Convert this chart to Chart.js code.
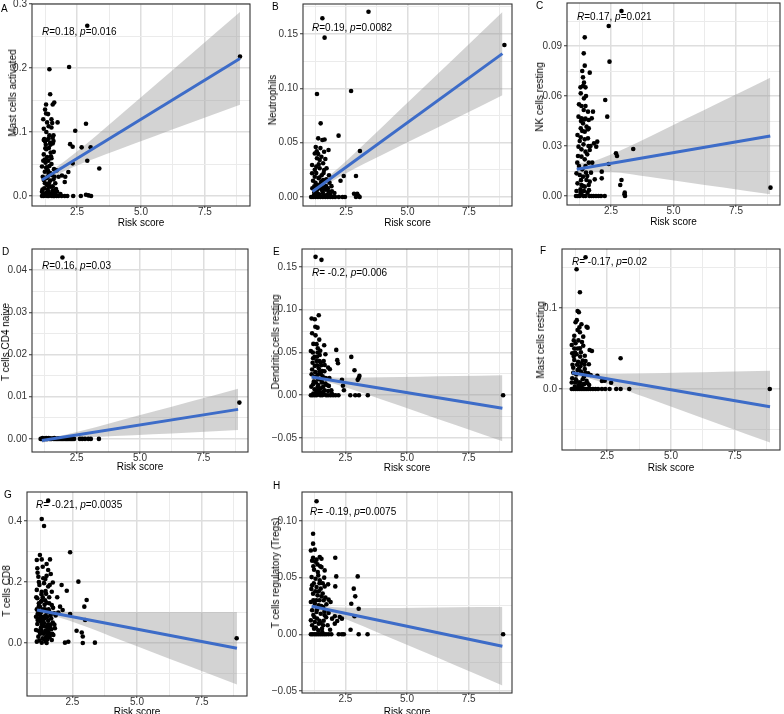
<!DOCTYPE html>
<html><head><meta charset="utf-8">
<script src="https://cdn.jsdelivr.net/npm/chart.js@4.4.1/dist/chart.umd.min.js"></script>
<style>
html,body{margin:0;padding:0;background:#fff;}
#wrap{position:relative;width:784px;height:714px;overflow:hidden;font-family:"Liberation Sans",Arial,Helvetica,sans-serif;color:#000;}
.cv{position:absolute;}
.lbl{position:absolute;font-size:10px;line-height:12px;white-space:nowrap;}
.ytitle{position:absolute;font-size:10px;line-height:12px;white-space:nowrap;transform:translate(-50%,-50%) rotate(-90deg);}
</style></head><body><div id="wrap"></div>
<script>
// ---------- data ----------
const riskMajor = [2.5, 5.0, 7.5];
const riskLabels = ['2.5', '5.0', '7.5'];
const riskMinor = [1.25, 3.75, 6.25, 8.75];
const riskRange = [0.74, 9.26];
const bandX = [1.13, 1.6, 2.5, 4, 5.5, 7, 8.87];
const fitX = [1.13, 8.87];

const ptsA = [[1.42,0.198],[2.19,0.2015],[2.90,0.266],[8.87,0.218],[1.45,0.159],[1.29,0.143],[1.55,0.143],[1.61,0.146],[1.29,0.129],[1.37,0.128],[1.33,0.115],[1.53,0.114],[1.74,0.115],[2.85,0.113],[1.39,0.109],[1.50,0.107],[2.43,0.102],[1.22,0.089],[1.39,0.090],[1.55,0.091],[1.25,0.085],[1.45,0.083],[1.58,0.086],[2.23,0.081],[2.33,0.077],[2.68,0.076],[3.03,0.076],[2.90,0.055],[2.33,0.051],[3.37,0.043],[2.16,0.0375],
[1.20,0.0875],[1.46,0.080],[1.55,0.082],[1.26,0.0745],[1.59,0.069],[1.33,0.061],[1.50,0.059],[1.13,0.046],[1.29,0.044],[1.42,0.047],[1.60,0.042],[1.24,0.038],[1.39,0.035],[1.52,0.033],[1.78,0.030],[1.91,0.032],[2.04,0.030],[2.02,0.022],[1.65,0.020],[1.20,0.025],[1.33,0.017],[1.46,0.0145],[1.55,0.009],[1.13,0.0067],[1.26,0.004],[1.39,0.0067],[1.72,0.0067],
[1.13,0],[1.20,0],[1.26,0.001],[1.33,0],[1.39,0],[1.46,0.001],[1.52,0],[1.60,0],[1.70,0],[1.78,0],[1.90,0],[2.02,0],[2.12,0],[2.35,0],[2.65,0],[2.85,0.002],[2.95,0.001],[3.05,0],
[1.18,0.12],[1.30,0.10],[1.42,0.095],[1.20,0.065],[1.38,0.055],[1.50,0.05],[1.27,0.052],[1.16,0.03],[1.30,0.028],[1.45,0.024],[1.58,0.026],[1.22,0.012],[1.35,0.01],[1.50,0.004],[1.64,0.005],[1.17,0.002],[1.42,0.002],[1.55,0.001],[1.68,0.011],[1.85,0.003],[1.30,0.073],[1.47,0.068],[1.36,0.04],[1.24,0.057],[1.40,0.02],
[1.15,0.01],[1.25,0.02],[1.35,0.03],[1.45,0.036],[1.55,0.015],[1.62,0.03],[1.70,0.04],[1.32,0.045],[1.18,0.055],[1.48,0.062],[1.28,0.08],[1.40,0.075],[1.58,0.095],[1.20,0.105],[1.35,0.088],[1.50,0.12],[1.25,0.135],[1.40,0.015],[1.60,0.0],[1.30,0.005]];
const loA = [0.0174,0.0305,0.0478,0.0709,0.0931,0.1151,0.1425];
const hiA = [0.0326,0.0425,0.0694,0.1201,0.1715,0.2231,0.2875];
const fitA = [0.025,0.215];

const ptsB = [[1.53,0.1646],[1.62,0.1467],[3.41,0.1706],[1.31,0.0948],[2.70,0.0976],[8.95,0.140],[1.46,0.0678],[2.19,0.0565],[3.06,0.0424],[1.36,0.054],[1.53,0.0525],[1.62,0.053],[1.26,0.046],[1.60,0.0417],[1.78,0.0433],
[1.22,0.040],[1.36,0.0396],[1.31,0.0356],[1.49,0.0371],[1.42,0.0341],[1.56,0.031],
[1.11,0.0295],[1.28,0.028],[1.42,0.0264],[1.60,0.0249],[1.70,0.0264],
[2.40,0.0193],[2.90,0.0193],[2.27,0.015],
[1.11,0.0218],[1.22,0.0187],[1.38,0.0172],[1.56,0.0157],[1.69,0.0163],[1.82,0.0132],
[1.20,0.0098],[1.36,0.0083],[1.49,0.0077],[1.65,0.0068],[1.78,0.0052],[1.92,0.0052],[2.02,0.0037],
[1.07,0],[1.15,0],[1.25,0],[1.35,0],[1.45,0],[1.55,0],[1.65,0],[1.75,0],[1.85,0],[1.95,0],[2.05,0],[2.20,0],[2.35,0],[2.45,0],[2.90,0],[3.00,0.001],[3.05,0],[2.82,0.003],[2.95,0.003],
[1.45,0.012],[1.30,0.006],[1.55,0.004],[1.72,0.002],[1.40,0.018],[1.25,0.013],[1.60,0.009],[1.50,0.020],[1.35,0.003],[1.62,0.001],[1.85,0.002],[1.20,0.004],[1.18,0.001],[1.42,0.002],
[1.15,0.015],[1.28,0.022],[1.38,0.03],[1.48,0.014],[1.58,0.022],[1.68,0.01],[1.75,0.008],[1.32,0.011],[1.12,0.008],[1.42,0.008],[1.52,0.006],[1.22,0.025],[1.45,0.045],[1.65,0.035],[1.30,0.042],[1.80,0.02],[1.90,0.01],[1.25,0.001],[1.40,0.001],[1.58,0.001]];
const loB = [0.0011,0.0097,0.0219,0.0391,0.0559,0.0727,0.0937];
const hiB = [0.0089,0.0157,0.0331,0.0651,0.0975,0.1299,0.1703];
const fitB = [0.005,0.132];

const ptsC = [[2.92,0.111],[2.41,0.102],[1.45,0.0952],[1.41,0.0856],[2.44,0.0806],[1.45,0.0782],[1.65,0.074],[1.38,0.0712],[1.28,0.0652],[1.38,0.066],[1.48,0.0652],[2.27,0.0576],
[1.29,0.0616],[1.42,0.0586],[1.32,0.054],[1.48,0.054],[1.41,0.0516],[1.58,0.0506],[1.78,0.0506],[2.35,0.0476],
[1.20,0.0476],[1.32,0.0466],[1.48,0.0464],[1.61,0.0456],[1.73,0.0466],
[1.38,0.0436],[1.52,0.0416],[1.61,0.0406],[1.29,0.0406],[1.45,0.0386],
[1.16,0.0366],[1.29,0.0352],[1.45,0.034],[1.58,0.0346],[1.82,0.0316],[1.95,0.0326],[1.91,0.0296],
[3.39,0.0282],[2.70,0.0256],[2.74,0.024],
[1.20,0.0296],[1.32,0.028],[1.48,0.0266],[1.65,0.0276],[1.32,0.0236],[1.45,0.022],[1.61,0.020],
[2.41,0.0192],[2.13,0.0146],[2.13,0.0106],[2.92,0.0096],[2.87,0.0066],
[1.12,0.0136],[1.25,0.0126],[1.38,0.0116],[1.52,0.0096],[1.65,0.0086],[1.16,0.0076],[1.32,0.0066],[1.45,0.0056],[1.61,0.0066],
[3.05,0.002],[3.04,0.001],[3.06,0],
[1.10,0],[1.17,0],[1.25,0],[1.32,0.001],[1.40,0],[1.48,0],[1.56,0.002],[1.64,0],[1.72,0],[1.80,0],[1.90,0],[2.00,0],[2.10,0],[2.25,0],
[8.88,0.005],
[1.22,0.018],[1.35,0.016],[1.50,0.014],[1.28,0.004],[1.42,0.003],[1.55,0.012],[1.18,0.024],[1.40,0.031],[1.30,0.0095],[1.60,0.030],
[1.15,0.02],[1.25,0.033],[1.35,0.039],[1.45,0.046],[1.55,0.025],[1.70,0.014],[1.22,0.055],[1.35,0.075],[1.50,0.06],[1.28,0.002],[1.38,0.006],[1.48,0.018],[1.58,0.04],[1.68,0.03],[1.12,0.003],[1.62,0.0035],[1.75,0.02],[1.85,0.01],[1.42,0.068],[1.30,0.045]];
const loC = [0.0122,0.0142,0.0143,0.0115,0.0083,0.0051,0.001];
const hiC = [0.0198,0.0202,0.0249,0.0353,0.0463,0.0573,0.071];
const fitC = [0.016,0.036];

const ptsD = [[1.94,0.043],[8.92,0.0086],
[1.08,0],[1.12,0],[1.16,0.0002],[1.20,0],[1.24,0],[1.28,0.0001],[1.32,0],[1.36,0],[1.40,0.0002],[1.44,0],[1.48,0],[1.52,0],[1.56,0.0001],[1.60,0],[1.65,0],[1.70,0],[1.75,0],[1.80,0],[1.85,0],[1.90,0],[1.95,0],[2.00,0],[2.05,0],[2.10,0],[2.15,0],[2.20,0],[2.25,0],[2.30,0],[2.35,0],[2.40,0],[2.63,0],[2.72,0],[2.83,0],[2.96,0],[3.06,0],[3.38,0],
[1.18,0.0001],[1.30,0.0002],[1.45,0.0001],[1.62,0.0002],[1.78,0.0001]];
const loD = [-0.0009,-0.00035,0.00017,0.00067,0.00111,0.00155,0.0021];
const hiD = [0.0001,0.00045,0.00163,0.00401,0.00643,0.00887,0.0119];
const fitD = [-0.0004,0.007];

const ptsE = [[1.29,0.1618],[1.53,0.1583],[1.13,0.0897],[1.26,0.0889],[1.42,0.0936],[1.37,0.079],[1.15,0.0725],[1.29,0.070],[1.33,0.0597],[1.64,0.0585],[2.13,0.053],
[1.10,0.0518],[1.37,0.050],[1.46,0.0471],[1.69,0.048],[2.74,0.0448],[2.17,0.041],[2.20,0.0374],
[1.19,0.0433],[1.33,0.0401],[1.50,0.0382],[1.66,0.0354],[1.80,0.0324],[1.26,0.0343],[1.42,0.0316],[1.56,0.0284],[1.87,0.0304],[2.87,0.0292],
[3.07,0.0226],[3.04,0.020],[3.00,0.018],[2.36,0.018],[2.40,0.011],[2.44,0.0058],
[1.13,0.0246],[1.26,0.0214],[1.40,0.0187],[1.53,0.0167],[1.69,0.0137],[1.83,0.0109],[1.19,0.0129],[1.37,0.0097],[1.50,0.0082],[1.66,0.0058],[1.80,0.005],[1.93,0.0058],
[1.10,0],[1.17,0],[1.25,0],[1.33,0],[1.40,0.001],[1.48,0],[1.56,0],[1.64,0.001],[1.72,0],[1.80,0],[1.90,0],[2.00,0],[2.10,0],[2.22,0],[2.70,0],[2.90,0],[3.05,0],[3.41,0],
[8.90,0],
[1.20,0.06],[1.35,0.045],[1.45,0.028],[1.22,0.016],[1.32,0.005],[1.48,0.003],[1.58,0.022],[1.28,0.027],[1.40,0.012],[1.60,0.01],[1.17,0.038],[1.52,0.035],[1.30,0.002],[1.70,0.02],[1.44,0.065],[1.25,0.007],[1.55,0.002],[1.38,0.024],
[1.15,0.03],[1.25,0.045],[1.35,0.035],[1.45,0.04],[1.55,0.015],[1.65,0.028],[1.12,0.01],[1.30,0.015],[1.42,0.006],[1.60,0.004],[1.75,0.012],[1.20,0.002],[1.50,0.025],[1.38,0.055],[1.28,0.08],[1.18,0.05],[1.48,0.052],[1.62,0.04],[1.85,0.02],[1.95,0.002]];
const loE = [0.0175,0.0162,0.0093,-0.0053,-0.0202,-0.0352,-0.0538];
const hiE = [0.0253,0.0222,0.0205,0.0209,0.0216,0.0224,0.0234];
const fitE = [0.0214,-0.0152];

const ptsF = [[1.66,0.1626],[1.31,0.1478],[1.44,0.1194],[1.35,0.0963],[1.40,0.0947],[1.27,0.0823],[1.50,0.080],[1.70,0.0769],[1.74,0.0757],[1.35,0.0728],[1.44,0.070],[1.22,0.0658],[1.57,0.0646],[1.82,0.0481],[1.91,0.0469],[3.03,0.0379],
[1.12,0.0543],[1.27,0.0564],[1.44,0.0502],[1.57,0.0534],[1.14,0.044],[1.31,0.0428],[1.48,0.0453],[1.63,0.0411],
[1.22,0.0358],[1.37,0.0337],[1.50,0.0317],[1.66,0.0346],[1.79,0.0305],[1.18,0.0263],[1.35,0.0235],[1.48,0.0214],[1.63,0.0247],[1.76,0.0194],[1.86,0.0173],
[2.12,0.0164],[2.30,0.0099],[2.41,0.0103],[2.66,0.0078],
[1.14,0.0132],[1.31,0.0099],[1.44,0.0082],[1.57,0.0058],[1.74,0.007],[1.24,0.0029],[1.40,0.0016],[1.53,0.0009],
[1.12,0],[1.20,0],[1.28,0],[1.36,0],[1.44,0],[1.52,0],[1.60,0],[1.68,0],[1.76,0],[1.85,0],[1.95,0],[2.05,0],[2.15,0],[2.30,0],[2.43,0],[2.60,0],[2.86,0],[3.03,0],[3.37,0],
[8.86,0],
[1.20,0.04],[1.38,0.06],[1.30,0.018],[1.46,0.028],[1.55,0.012],[1.25,0.008],[1.42,0.004],[1.60,0.015],[1.33,0.03],[1.18,0.02],
[1.15,0.03],[1.25,0.045],[1.35,0.05],[1.45,0.04],[1.55,0.035],[1.65,0.02],[1.12,0.008],[1.28,0.012],[1.38,0.005],[1.50,0.002],[1.60,0.006],[1.70,0.01],[1.20,0.06],[1.32,0.085],[1.42,0.076],[1.52,0.058],[1.22,0.05],[1.62,0.03],[1.80,0.005],[1.40,0.025]];
const loF = [0.016,0.0146,0.0065,-0.0103,-0.0274,-0.0446,-0.066];
const hiF = [0.0242,0.0206,0.0189,0.0195,0.0204,0.0214,0.0224];
const fitF = [0.0201,-0.0218];

const ptsG = [[1.56,0.4666],[1.31,0.4066],[1.40,0.3836],[2.41,0.2974],[1.24,0.2885],[2.73,0.201],[2.08,0.190],
[1.12,0.272],[1.31,0.274],[1.50,0.259],[1.63,0.274],[1.14,0.245],[1.35,0.25],[1.56,0.239],
[1.18,0.217],[1.37,0.212],[1.50,0.22],[1.66,0.226],
[1.22,0.190],[1.40,0.196],[1.56,0.185],[1.74,0.198],[1.12,0.174],[1.31,0.168],[1.48,0.161],[1.70,0.168],
[2.28,0.171],[1.91,0.150],[2.02,0.119],[3.05,0.141],[2.96,0.119],
[1.14,0.1466],[1.31,0.1387],[1.50,0.132],[1.70,0.1246],[1.24,0.119],[1.44,0.110],[1.60,0.1026],[1.79,0.0974],
[2.12,0.108],[2.41,0.095],[2.99,0.0754],
[1.09,0.086],[1.22,0.081],[1.37,0.078],[1.56,0.073],[1.74,0.0666],[1.14,0.062],[1.31,0.059],[1.48,0.0535],[1.63,0.0515],[1.82,0.048],[1.09,0.0426],[1.24,0.037],[1.44,0.0338],[1.60,0.0295],[1.76,0.0262],[1.18,0.0207],[1.35,0.0154],[1.53,0.0121],[1.70,0.0098],[1.12,0.0043],[1.31,0.001],[1.50,0],
[2.66,0.040],[2.86,0.034],[2.90,0.021],[2.90,0],[2.34,0.004],[2.21,0.001],[3.37,0.001],[8.86,0.0154],
[1.20,0.13],[1.35,0.15],[1.45,0.09],[1.28,0.10],[1.40,0.065],[1.55,0.045],[1.25,0.03],[1.38,0.055],[1.52,0.085],[1.65,0.06],[1.18,0.105],[1.42,0.125],[1.30,0.04],[1.62,0.02],[1.47,0.005],[1.75,0.115],[1.85,0.09],[1.95,0.10],[1.15,0.095],[1.33,0.085],[1.58,0.11],[1.27,0.07],[1.45,0.04],[1.68,0.08],
[1.12,0.11],[1.20,0.12],[1.28,0.135],[1.36,0.11],[1.44,0.14],[1.52,0.10],[1.60,0.13],[1.15,0.075],[1.25,0.09],[1.35,0.065],[1.43,0.08],[1.55,0.06],[1.65,0.09],[1.18,0.04],[1.28,0.05],[1.38,0.03],[1.48,0.02],[1.58,0.035],[1.68,0.045],[1.22,0.008],[1.40,0.012],[1.55,0.025],[1.72,0.03],[1.80,0.06],[1.10,0.15],[1.30,0.16],[1.46,0.17],[1.60,0.15],[1.20,0.20],[1.45,0.21],[1.15,0.23],[1.62,0.19]];
const loG = [0.0969,0.0924,0.0691,0.0215,-0.0269,-0.0756,-0.1361];
const hiG = [0.1191,0.1084,0.1025,0.1015,0.1013,0.1014,0.1011];
const fitG = [0.108,-0.0175];

const ptsH = [[1.33,0.1175],[1.19,0.0888],[1.19,0.080],[1.10,0.074],[1.26,0.0747],[2.09,0.0676],[1.46,0.0682],[1.53,0.0667],[1.19,0.0676],[1.33,0.0659],[1.37,0.0617],[1.53,0.0593],[1.23,0.057],[1.66,0.0564],[2.13,0.0511],[3.00,0.0511],[2.09,0.0423],[2.84,0.0403],[2.90,0.0335],[2.74,0.027],[3.04,0.0226],[2.87,0.0159],
[1.13,0.0505],[1.29,0.0491],[1.46,0.0476],[1.64,0.05],[1.15,0.0432],[1.33,0.0417],[1.50,0.0403],[1.66,0.0423],[1.80,0.0441],[1.19,0.0359],[1.37,0.0344],[1.53,0.0335],[1.69,0.0324],[1.82,0.0306],[1.10,0.0285],[1.26,0.0271],[1.42,0.0256],[1.60,0.0241],[1.73,0.0265],[1.90,0.0285],[1.15,0.0212],[1.33,0.0197],[1.50,0.0182],[1.66,0.0168],[1.82,0.0188],[1.96,0.0138],[2.07,0.0159],[1.10,0.0123],[1.26,0.0108],[1.42,0.0094],[1.60,0.0079],[1.23,0.005],[1.40,0.0035],[1.56,0.002],
[2.27,0.0153],[2.36,0.0138],[2.17,0.0117],[2.07,0.0094],[2.71,0.004],
[1.10,0],[1.17,0],[1.25,0],[1.32,0],[1.40,0],[1.48,0],[1.56,0],[1.64,0],[1.72,0],[1.82,0],[1.93,0],[2.23,0],[2.36,0],[2.44,0],[3.04,0],[3.40,0],
[8.90,0],
[1.20,0.06],[1.40,0.052],[1.28,0.038],[1.45,0.03],[1.35,0.014],[1.50,0.01],[1.20,0.017],[1.58,0.036],[1.30,0.006],[1.45,0.045],[1.62,0.012],[1.15,0.065],
[1.12,0.04],[1.22,0.045],[1.32,0.03],[1.42,0.038],[1.52,0.025],[1.62,0.03],[1.72,0.015],[1.15,0.008],[1.25,0.015],[1.35,0.022],[1.45,0.012],[1.55,0.005],[1.65,0.02],[1.20,0.03],[1.38,0.055],[1.48,0.06],[1.28,0.064],[1.58,0.045],[1.78,0.008],[1.88,0.004]];
const loH = [0.0214,0.0201,0.0135,-0.0001,-0.0139,-0.0278,-0.0452];
const hiH = [0.0281,0.0251,0.0235,0.0233,0.0235,0.0238,0.024];
const fitH = [0.0247,-0.0106];

// y-axis ticks
const yMajorA = [0,0.1,0.2,0.3], yLabelsA = ['0.0','0.1','0.2','0.3'], yMinorA = [0.05,0.15,0.25];
const yMajorB = [0,0.05,0.1,0.15], yLabelsB = ['0.00','0.05','0.10','0.15'], yMinorB = [0.025,0.075,0.125,0.175];
const yMajorC = [0,0.03,0.06,0.09], yLabelsC = ['0.00','0.03','0.06','0.09'], yMinorC = [0.015,0.045,0.075,0.105];
const yMajorD = [0,0.01,0.02,0.03,0.04], yLabelsD = ['0.00','0.01','0.02','0.03','0.04'], yMinorD = [0.005,0.015,0.025,0.035];
const yMajorE = [-0.05,0,0.05,0.1,0.15], yLabelsE = ['\u22120.05','0.00','0.05','0.10','0.15'], yMinorE = [-0.025,0.025,0.075,0.125];
const yMajorF = [0,0.1], yLabelsF = ['0.0','0.1'], yMinorF = [-0.05,0.05,0.15];
const yMajorG = [0,0.2,0.4], yLabelsG = ['0.0','0.2','0.4'], yMinorG = [-0.1,0.1,0.3];
const yMajorH = [-0.05,0,0.05,0.1], yLabelsH = ['\u22120.05','0.00','0.05','0.10'], yMinorH = [-0.025,0.025,0.075];

const panels = [
  {letter:'A', yTitle:'Mast cells activated', stat:'<i>R</i>=0.18, <i>p</i>=0.016', pts:ptsA, lo:loA, hi:hiA, fit:fitA, yMajor:yMajorA, yLabels:yLabelsA, yMinor:yMinorA, yRange:[-0.0156,0.3]},
  {letter:'B', yTitle:'Neutrophils', stat:'<i>R</i>=0.19, <i>p</i>=0.0082', pts:ptsB, lo:loB, hi:hiB, fit:fitB, yMajor:yMajorB, yLabels:yLabelsB, yMinor:yMinorB, yRange:[-0.0083,0.1777]},
  {letter:'C', yTitle:'NK cells resting', stat:'<i>R</i>=0.17, <i>p</i>=0.021', pts:ptsC, lo:loC, hi:hiC, fit:fitC, yMajor:yMajorC, yLabels:yLabelsC, yMinor:yMinorC, yRange:[-0.0054,0.1158]},
  {letter:'D', yTitle:'T cells CD4 naive', stat:'<i>R</i>=0.16, <i>p</i>=0.03', pts:ptsD, lo:loD, hi:hiD, fit:fitD, yMajor:yMajorD, yLabels:yLabelsD, yMinor:yMinorD, yRange:[-0.0031,0.045]},
  {letter:'E', yTitle:'Dendritic cells resting', stat:'<i>R</i>= -0.2, <i>p</i>=0.006', pts:ptsE, lo:loE, hi:hiE, fit:fitE, yMajor:yMajorE, yLabels:yLabelsE, yMinor:yMinorE, yRange:[-0.0664,0.171]},
  {letter:'F', yTitle:'Mast cells resting', stat:'<i>R</i>= -0.17, <i>p</i>=0.02', pts:ptsF, lo:loF, hi:hiF, fit:fitF, yMajor:yMajorF, yLabels:yLabelsF, yMinor:yMinorF, yRange:[-0.0753,0.1728]},
  {letter:'G', yTitle:'T cells CD8', stat:'<i>R</i>= -0.21, <i>p</i>=0.0035', pts:ptsG, lo:loG, hi:hiG, fit:fitG, yMajor:yMajorG, yLabels:yLabelsG, yMinor:yMinorG, yRange:[-0.174,0.495]},
  {letter:'H', yTitle:'T cells regulatory (Tregs)', stat:'<i>R</i>= -0.19, <i>p</i>=0.0075', pts:ptsH, lo:loH, hi:hiH, fit:fitH, yMajor:yMajorH, yLabels:yLabelsH, yMinor:yMinorH, yRange:[-0.0518,0.1256]}
];

// ---------- layout (page pixels) ----------
const boxes = {
  A:{cx:0,  cw:255, L:32,  T:4,   R:250, B:206, tOff:14.7, ytx:13,  yty:93,  lx:1,   ly:3,   sx:42,  sy:32},
  B:{cx:255,cw:261, L:303, T:4,   R:515, B:206, tOff:14.7, ytx:273, yty:100, lx:272, ly:1,   sx:312, sy:28},
  C:{cx:516,cw:268, L:567, T:3,   R:783, B:205, tOff:15,   ytx:540, yty:97,  lx:536, ly:0,   sx:577, sy:17},
  D:{cx:0,  cw:255, L:32,  T:249, R:248, B:452, tOff:13,   ytx:6,   yty:342, lx:2,   ly:246, sx:42,  sy:266},
  E:{cx:255,cw:261, L:302, T:249, R:514, B:452, tOff:13.7, ytx:276, yty:342, lx:273, ly:246, sx:312, sy:273},
  F:{cx:516,cw:268, L:562, T:249, R:782, B:450, tOff:15.7, ytx:541, yty:340, lx:540, ly:245, sx:572, sy:262},
  G:{cx:0,  cw:255, L:27,  T:492, R:247, B:696, tOff:13.3, ytx:7,   yty:591, lx:4,   ly:489, sx:36,  sy:505},
  H:{cx:255,cw:261, L:302, T:492, R:514, B:693, tOff:16.3, ytx:276, yty:573, lx:273, ly:480, sx:310, sy:512}
};

const FONT = '"Liberation Sans", Arial, Helvetica, sans-serif';
Chart.defaults.font.family = FONT;
const bandFill = 'rgba(150,150,150,0.42)';
const lineCol = '#3D6CC8';
const XH = 28;

const framePlugin = {
  id: 'frame',
  afterDatasetsDraw(chart) {
    const {ctx, chartArea: a} = chart;
    ctx.save();
    ctx.strokeStyle = '#333';
    ctx.lineWidth = 1.1;
    ctx.strokeRect(a.left, a.top, a.right - a.left, a.bottom - a.top);
    ctx.restore();
  }
};

function near(list, v) { return list.findIndex(m => Math.abs(m - v) < 1e-9); }

function axisOpts(major, labels, minor, range, isX, extra) {
  const all = major.concat(minor).sort((a, b) => a - b);
  return Object.assign({
    type: 'linear',
    min: range[0], max: range[1],
    bounds: 'data',
    afterBuildTicks: s => { s.ticks = all.map(v => ({value: v})); },
    ticks: {
      autoSkip: false, maxRotation: 0, minRotation: 0,
      padding: isX ? -2 : 2,
      font: {size: 10, family: FONT}, color: '#333',
      callback: v => { const i = near(major, v); return i >= 0 ? labels[i] : ''; }
    },
    grid: {
      color: c => near(major, c.tick.value) >= 0 ? '#DEDEDE' : '#EBEBEB',
      lineWidth: c => near(major, c.tick.value) >= 0 ? 1.5 : 1,
      tickColor: c => near(major, c.tick.value) >= 0 ? '#333' : 'rgba(0,0,0,0)',
      tickLength: isX ? 2 : 3, tickWidth: 1, drawTicks: true
    },
    border: {display: false}
  }, extra);
}

const wrap = document.getElementById('wrap');

panels.forEach(p => {
  const b = boxes[p.letter];
  const top = b.T - 8;
  const h = (b.B - b.T) + 8 + XH + 2;
  const holder = document.createElement('div');
  holder.className = 'cv';
  holder.style.left = b.cx + 'px';
  holder.style.top = top + 'px';
  holder.style.width = b.cw + 'px';
  holder.style.height = h + 'px';
  const cv = document.createElement('canvas');
  cv.width = b.cw; cv.height = h;
  cv.style.width = b.cw + 'px'; cv.style.height = h + 'px';
  holder.appendChild(cv);
  wrap.appendChild(holder);

  const yW = b.L - b.cx;
  const titlePadB = XH - b.tOff - 6 - 2.5;

  new Chart(cv, {
    type: 'scatter',
    data: {
      datasets: [
        {type:'line', data: bandX.map((x, i) => ({x, y: p.lo[i]})), borderWidth: 0, borderColor: 'rgba(0,0,0,0)', pointRadius: 0, fill: false, cubicInterpolationMode: 'monotone', order: 5},
        {type:'line', data: bandX.map((x, i) => ({x, y: p.hi[i]})), borderWidth: 0, borderColor: 'rgba(0,0,0,0)', pointRadius: 0, fill: '-1', backgroundColor: bandFill, cubicInterpolationMode: 'monotone', order: 4},
        {type:'scatter', data: p.pts.map(([x, y]) => ({x, y})), pointRadius: 2.3, pointBackgroundColor: '#000', pointBorderWidth: 0, order: 2},
        {type:'line', data: fitX.map((x, i) => ({x, y: p.fit[i]})), borderColor: lineCol, borderWidth: 3, pointRadius: 0, fill: false, order: 1}
      ]
    },
    options: {
      responsive: false, animation: false, devicePixelRatio: 1, events: [],
      layout: {padding: {top: 8, left: 0, right: b.cx + b.cw - b.R, bottom: 2}},
      plugins: {legend: {display: false}, tooltip: {enabled: false}},
      scales: {
        x: axisOpts(riskMajor, riskLabels, riskMinor, riskRange, true, {
          position: 'bottom',
          afterFit: s => { s.height = XH; },
          title: {display: true, text: 'Risk score', color: '#000', font: {size: 10, family: FONT}, padding: {top: 0, bottom: titlePadB}}
        }),
        y: axisOpts(p.yMajor, p.yLabels, p.yMinor, p.yRange, false, {
          position: 'left',
          afterFit: s => { s.width = yW; }
        })
      }
    },
    plugins: [framePlugin]
  });

  const lt = document.createElement('div');
  lt.className = 'lbl'; lt.textContent = p.letter;
  lt.style.left = b.lx + 'px'; lt.style.top = b.ly + 'px';
  wrap.appendChild(lt);

  const st = document.createElement('div');
  st.className = 'lbl'; st.innerHTML = p.stat;
  st.style.left = b.sx + 'px'; st.style.top = (b.sy - 6) + 'px';
  wrap.appendChild(st);

  const yt = document.createElement('div');
  yt.className = 'ytitle'; yt.textContent = p.yTitle;
  yt.style.left = b.ytx + 'px'; yt.style.top = b.yty + 'px';
  wrap.appendChild(yt);
});
</script></body></html>
